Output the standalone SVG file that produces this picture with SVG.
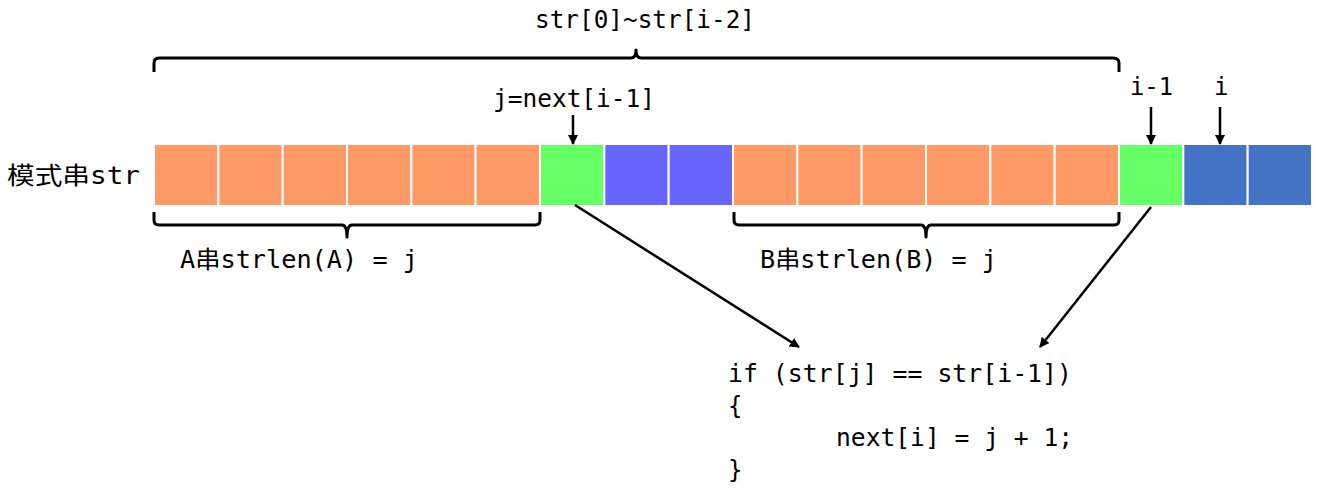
<svg xmlns="http://www.w3.org/2000/svg" width="1317" height="490" viewBox="0 0 1317 490">
<style>
.t{font-family:"DejaVu Sans Mono","Noto Sans CJK SC",monospace;font-size:24px;fill:#000}
.c{font-family:"DejaVu Sans Mono","Noto Sans CJK SC",monospace;font-size:24px;fill:#000}
.br{fill:none;stroke:#000;stroke-width:3;stroke-linejoin:round}
.ln{fill:none;stroke:#000;stroke-width:2.5}
.o{fill:#FF9966;stroke:#fff;stroke-width:2}
.g{fill:#66FF66;stroke:#fff;stroke-width:2}
.p{fill:#6666FF;stroke:#fff;stroke-width:2}
.b{fill:#4472C4;stroke:#fff;stroke-width:2}
</style>
<defs>
<marker id="ah" viewBox="0 0 10 10" refX="9" refY="5" markerWidth="4" markerHeight="4" orient="auto" markerUnits="strokeWidth">
<path d="M0,0 L10,5 L0,10 z" fill="#000"/>
</marker>
</defs>
<g id="label-str">
<text class="t" x="7" y="184" font-size="26" textLength="133" lengthAdjust="spacingAndGlyphs">模式串str</text>
</g>
<g id="cells">
<rect class="o" x="154" y="144" width="64.33" height="62"/>
<rect class="o" x="218.33" y="144" width="64.33" height="62"/>
<rect class="o" x="282.67" y="144" width="64.33" height="62"/>
<rect class="o" x="347" y="144" width="64.33" height="62"/>
<rect class="o" x="411.33" y="144" width="64.33" height="62"/>
<rect class="o" x="475.67" y="144" width="64.33" height="62"/>
<rect class="g" x="540" y="144" width="64.33" height="62"/>
<rect class="p" x="604.33" y="144" width="64.33" height="62"/>
<rect class="p" x="668.67" y="144" width="64.33" height="62"/>
<rect class="o" x="733" y="144" width="64.33" height="62"/>
<rect class="o" x="797.33" y="144" width="64.33" height="62"/>
<rect class="o" x="861.67" y="144" width="64.33" height="62"/>
<rect class="o" x="926" y="144" width="64.33" height="62"/>
<rect class="o" x="990.33" y="144" width="64.33" height="62"/>
<rect class="o" x="1054.67" y="144" width="64.33" height="62"/>
<rect class="g" x="1119" y="144" width="64.33" height="62"/>
<rect class="b" x="1183.33" y="144" width="64.33" height="62"/>
<rect class="b" x="1247.67" y="144" width="64.33" height="62"/>
</g>
<g id="brace-top">
<path class="br" d="M154,72 V63 Q154,58 159,58 H631 Q636,58 636,50 Q636,58 641,58 H1113 Q1119,58 1119,63 V72"/>
<text class="t" x="535" y="28" textLength="220" lengthAdjust="spacingAndGlyphs">str[0]~str[i-2]</text>
</g>
<g id="brace-a">
<path class="br" d="M154,212 V220 Q154,225 159,225 H342 Q347,225 347,237 Q347,225 352,225 H535 Q540,225 540,220 V212"/>
<text class="t" x="180" y="268" textLength="238" lengthAdjust="spacingAndGlyphs">A串strlen(A) = j</text>
</g>
<g id="brace-b">
<path class="br" d="M734,212 V220 Q734,225 739,225 H921 Q926,225 926,237 Q926,225 931,225 H1114 Q1119,225 1119,220 V212"/>
<text class="t" x="760" y="268" textLength="237" lengthAdjust="spacingAndGlyphs">B串strlen(B) = j</text>
</g>
<g id="label-j">
<text class="t" x="493" y="107" textLength="162" lengthAdjust="spacingAndGlyphs">j=next[i-1]</text>
</g>
<g id="label-i1">
<text class="t" x="1130" y="95" textLength="43" lengthAdjust="spacingAndGlyphs">i-1</text>
</g>
<g id="label-i">
<text class="t" x="1214" y="95">i</text>
</g>
<g id="code">
<text class="c" x="728" y="382" textLength="344" lengthAdjust="spacingAndGlyphs">if (str[j] == str[i-1])</text>
<text class="c" x="728" y="414">{</text>
<text class="c" x="836" y="446" textLength="237" lengthAdjust="spacingAndGlyphs">next[i] = j + 1;</text>
<text class="c" x="728" y="478">}</text>
</g>
<g id="connectors">
<line class="ln" x1="573" y1="115" x2="573" y2="144" marker-end="url(#ah)"/>
<line class="ln" x1="1151" y1="107" x2="1151" y2="144" marker-end="url(#ah)"/>
<line class="ln" x1="1220" y1="107" x2="1220" y2="144" marker-end="url(#ah)"/>
<line class="ln" x1="575" y1="205" x2="799" y2="347" marker-end="url(#ah)"/>
<line class="ln" x1="1151" y1="207" x2="1040" y2="347" marker-end="url(#ah)"/>
</g>
</svg>
